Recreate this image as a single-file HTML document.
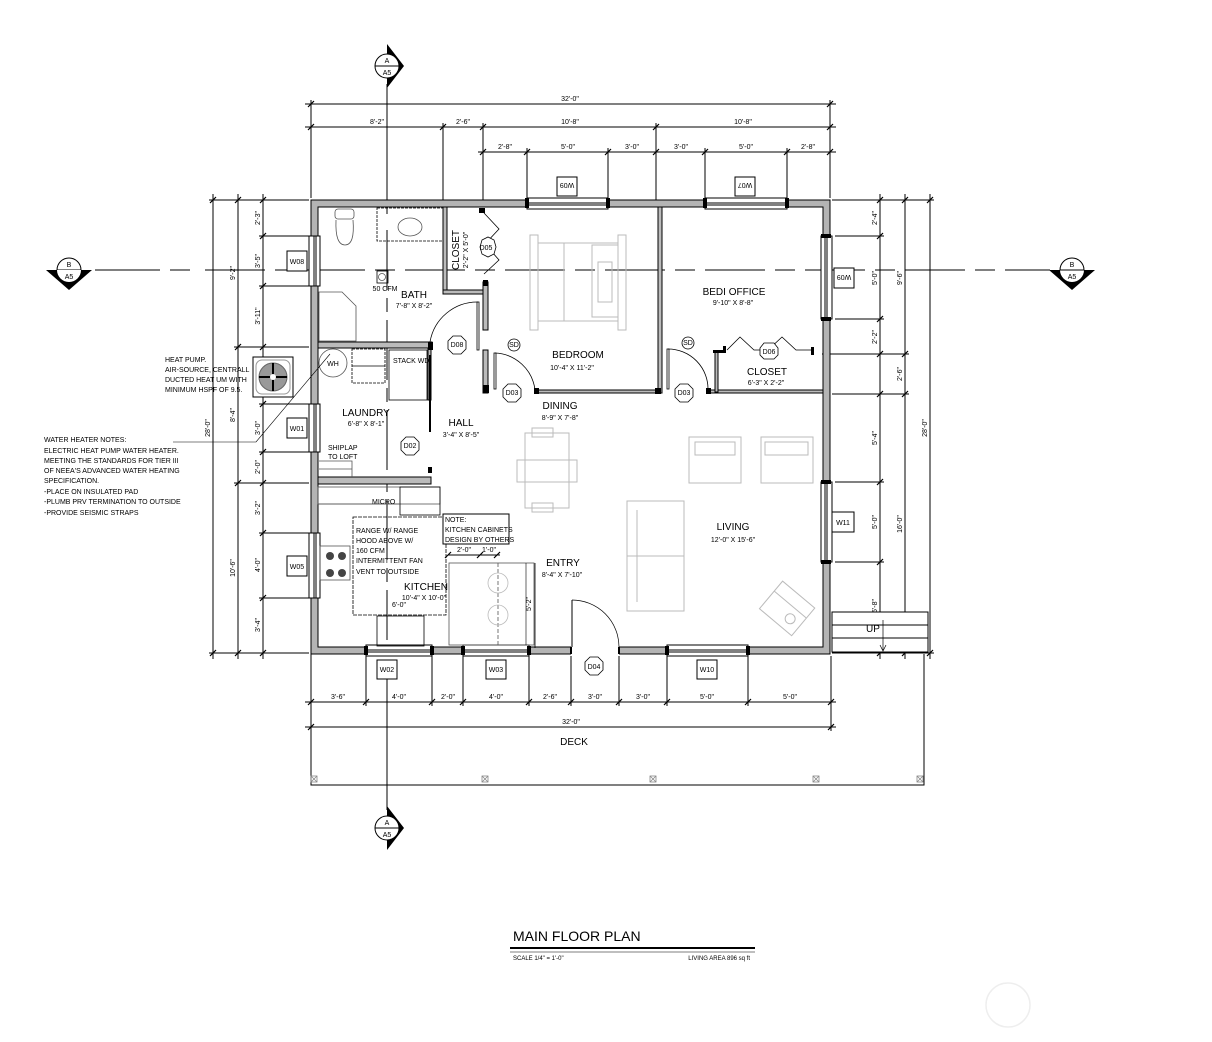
<!DOCTYPE html>
<html><head><meta charset="utf-8"><style>
html,body{margin:0;padding:0;background:#fff;}
svg{display:block;font-family:"Liberation Sans",sans-serif;}
.d{stroke:#000;stroke-width:1;fill:none}
.t{font-size:7px;fill:#000}
.r{font-size:10px;fill:#000}
.s{font-size:7px;fill:#000}
.f{stroke:#aaa;stroke-width:1;fill:none}
.w{fill:#fff;stroke:#000;stroke-width:1}
.iw{fill:#bbb;stroke:#000;stroke-width:1}
</style></head><body>
<svg width="1212" height="1042" viewBox="0 0 1212 1042" xmlns="http://www.w3.org/2000/svg">
<defs>
<g id="tk"><line x1="-3" y1="3" x2="3" y2="-3" stroke="#000" stroke-width="1.2"/></g>
</defs>

<g stroke="#000" stroke-width="1">
<line x1="387" y1="84" x2="387" y2="214"/>
<line x1="387" y1="230" x2="387" y2="640" stroke-dasharray="60,8,14,8"/>
<line x1="387" y1="660" x2="387" y2="810"/>
<line x1="95" y1="270" x2="160" y2="270"/>
<line x1="170" y1="270" x2="190" y2="270"/>
<line x1="205" y1="270" x2="1050" y2="270" stroke-dasharray="60,10,20,10"/>
</g>

<g>
<circle cx="387" cy="66" r="12" fill="#fff" stroke="#000"/>
<line x1="375" y1="66" x2="399" y2="66" stroke="#000"/>
<path d="M387 44 L404 66 L387 88 L387 78 A12 12 0 0 0 387 54 Z" fill="#000"/>
<text x="387" y="63" text-anchor="middle" class="s">A</text>
<text x="387" y="75" text-anchor="middle" class="s">A5</text>

<circle cx="387" cy="828" r="12" fill="#fff" stroke="#000"/>
<line x1="375" y1="828" x2="399" y2="828" stroke="#000"/>
<path d="M387 806 L404 828 L387 850 L387 840 A12 12 0 0 0 387 816 Z" fill="#000"/>
<text x="387" y="825" text-anchor="middle" class="s">A</text>
<text x="387" y="837" text-anchor="middle" class="s">A5</text>

<circle cx="69" cy="270" r="12" fill="#fff" stroke="#000"/>
<line x1="57" y1="270" x2="81" y2="270" stroke="#000"/>
<path d="M46 270 L92 270 L69 290 Z" fill="#000"/>
<path d="M57 270 A12 12 0 0 0 81 270 Z" fill="#fff"/>
<text x="69" y="267" text-anchor="middle" class="s">B</text>
<text x="69" y="279" text-anchor="middle" class="s">A5</text>

<circle cx="1072" cy="270" r="12" fill="#fff" stroke="#000"/>
<path d="M1049 270 L1095 270 L1072 290 Z" fill="#000"/>
<path d="M1060 270 A12 12 0 0 0 1084 270 Z" fill="#fff"/>
<line x1="1060" y1="270" x2="1084" y2="270" stroke="#000"/>
<text x="1072" y="267" text-anchor="middle" class="s">B</text>
<text x="1072" y="279" text-anchor="middle" class="s">A5</text>
</g>

<g class="d">
<line x1="305" y1="104" x2="836" y2="104"/>
<line x1="305" y1="127" x2="836" y2="127"/>
<line x1="478" y1="152" x2="836" y2="152"/>
<line x1="311" y1="100" x2="311" y2="198"/>
<line x1="830" y1="100" x2="830" y2="198"/>
<line x1="443" y1="123" x2="443" y2="200"/>
<line x1="483" y1="123" x2="483" y2="200"/>
<line x1="656" y1="123" x2="656" y2="200"/>
<line x1="527" y1="148" x2="527" y2="200"/>
<line x1="608" y1="148" x2="608" y2="200"/>
<line x1="705" y1="148" x2="705" y2="200"/>
<line x1="787" y1="148" x2="787" y2="200"/>
</g>
<g>
<use href="#tk" x="311" y="104"/><use href="#tk" x="830" y="104"/>
<use href="#tk" x="311" y="127"/><use href="#tk" x="443" y="127"/><use href="#tk" x="483" y="127"/><use href="#tk" x="656" y="127"/><use href="#tk" x="830" y="127"/>
<use href="#tk" x="483" y="152"/><use href="#tk" x="527" y="152"/><use href="#tk" x="608" y="152"/><use href="#tk" x="656" y="152"/><use href="#tk" x="705" y="152"/><use href="#tk" x="787" y="152"/><use href="#tk" x="830" y="152"/>
</g>
<g class="t" text-anchor="middle">
<text x="570" y="101">32'-0"</text>
<text x="377" y="124">8'-2"</text><text x="463" y="124">2'-6"</text><text x="570" y="124">10'-8"</text><text x="743" y="124">10'-8"</text>
<text x="505" y="149">2'-8"</text><text x="568" y="149">5'-0"</text><text x="632" y="149">3'-0"</text><text x="681" y="149">3'-0"</text><text x="746" y="149">5'-0"</text><text x="808" y="149">2'-8"</text>
</g>
<rect x="557" y="177" width="20" height="19" class="w"/><text x="567" y="189" class="s" text-anchor="middle" transform="rotate(180 567 186)">W09</text>
<rect x="735" y="177" width="20" height="19" class="w"/><text x="745" y="189" class="s" text-anchor="middle" transform="rotate(180 745 186)">W07</text>

<g class="d">
<line x1="213" y1="194" x2="213" y2="659"/>
<line x1="238" y1="194" x2="238" y2="659"/>
<line x1="263" y1="194" x2="263" y2="659"/>
<line x1="209" y1="200" x2="309" y2="200"/>
<line x1="209" y1="653" x2="309" y2="653"/>
<line x1="259" y1="236" x2="309" y2="236"/>
<line x1="259" y1="286" x2="309" y2="286"/>
<line x1="234" y1="347" x2="309" y2="347"/>
<line x1="259" y1="404" x2="309" y2="404"/>
<line x1="259" y1="452" x2="309" y2="452"/>
<line x1="234" y1="483" x2="309" y2="483"/>
<line x1="259" y1="533" x2="309" y2="533"/>
<line x1="259" y1="598" x2="309" y2="598"/>
</g>
<g>
<use href="#tk" x="213" y="200"/><use href="#tk" x="238" y="200"/><use href="#tk" x="263" y="200"/>
<use href="#tk" x="213" y="653"/><use href="#tk" x="238" y="653"/><use href="#tk" x="263" y="653"/>
<use href="#tk" x="263" y="236"/><use href="#tk" x="263" y="286"/><use href="#tk" x="238" y="347"/><use href="#tk" x="263" y="347"/>
<use href="#tk" x="263" y="404"/><use href="#tk" x="263" y="452"/><use href="#tk" x="238" y="483"/><use href="#tk" x="263" y="483"/>
<use href="#tk" x="263" y="533"/><use href="#tk" x="263" y="598"/>
</g>
<g class="t" text-anchor="middle">
<text transform="translate(210 428) rotate(-90)">28'-0"</text>
<text transform="translate(235 273) rotate(-90)">9'-2"</text>
<text transform="translate(235 415) rotate(-90)">8'-4"</text>
<text transform="translate(235 568) rotate(-90)">10'-6"</text>
<text transform="translate(260 218) rotate(-90)">2'-3"</text>
<text transform="translate(260 261) rotate(-90)">3'-5"</text>
<text transform="translate(260 316) rotate(-90)">3'-11"</text>
<text transform="translate(260 428) rotate(-90)">3'-0"</text>
<text transform="translate(260 467) rotate(-90)">2'-0"</text>
<text transform="translate(260 508) rotate(-90)">3'-2"</text>
<text transform="translate(260 565) rotate(-90)">4'-0"</text>
<text transform="translate(260 625) rotate(-90)">3'-4"</text>
</g>
<rect x="287" y="251" width="20" height="20" class="w"/><text x="297" y="264" class="s" text-anchor="middle">W08</text>
<rect x="287" y="418" width="20" height="20" class="w"/><text x="297" y="431" class="s" text-anchor="middle">W01</text>
<rect x="287" y="556" width="20" height="20" class="w"/><text x="297" y="569" class="s" text-anchor="middle">W05</text>

<g class="d">
<line x1="880" y1="194" x2="880" y2="659"/>
<line x1="905" y1="194" x2="905" y2="659"/>
<line x1="930" y1="194" x2="930" y2="659"/>
<line x1="832" y1="200" x2="934" y2="200"/>
<line x1="832" y1="653" x2="934" y2="653"/>
<line x1="835" y1="236" x2="884" y2="236"/>
<line x1="835" y1="319" x2="884" y2="319"/>
<line x1="822" y1="354" x2="909" y2="354"/>
<line x1="832" y1="394" x2="909" y2="394"/>
<line x1="835" y1="482" x2="884" y2="482"/>
<line x1="835" y1="562" x2="884" y2="562"/>
</g>
<g>
<use href="#tk" x="880" y="200"/><use href="#tk" x="905" y="200"/><use href="#tk" x="930" y="200"/>
<use href="#tk" x="880" y="653"/><use href="#tk" x="905" y="653"/><use href="#tk" x="930" y="653"/>
<use href="#tk" x="880" y="236"/><use href="#tk" x="880" y="319"/><use href="#tk" x="880" y="354"/><use href="#tk" x="905" y="354"/>
<use href="#tk" x="880" y="394"/><use href="#tk" x="905" y="394"/><use href="#tk" x="880" y="482"/><use href="#tk" x="880" y="562"/>
</g>
<g class="t" text-anchor="middle">
<text transform="translate(877 218) rotate(-90)">2'-4"</text>
<text transform="translate(877 278) rotate(-90)">5'-0"</text>
<text transform="translate(877 337) rotate(-90)">2'-2"</text>
<text transform="translate(877 438) rotate(-90)">5'-4"</text>
<text transform="translate(877 522) rotate(-90)">5'-0"</text>
<text transform="translate(877 606) rotate(-90)">5'-8"</text>
<text transform="translate(902 278) rotate(-90)">9'-6"</text>
<text transform="translate(902 374) rotate(-90)">2'-6"</text>
<text transform="translate(902 524) rotate(-90)">16'-0"</text>
<text transform="translate(927 428) rotate(-90)">28'-0"</text>
</g>
<rect x="834" y="268" width="20" height="20" class="w"/><text x="844" y="281" class="s" text-anchor="middle" transform="rotate(180 844 278)">W09</text>
<rect x="832" y="512" width="22" height="20" class="w"/><text x="843" y="525" class="s" text-anchor="middle">W11</text>
<rect x="832" y="612" width="96" height="40" class="w"/>
<line x1="832" y1="625" x2="928" y2="625" stroke="#000"/>
<line x1="832" y1="638" x2="928" y2="638" stroke="#000"/>
<text x="866" y="632" class="r" font-size="9">UP</text>
<line x1="883" y1="620" x2="883" y2="650" stroke="#000" stroke-width="0.7"/>
<path d="M880 645 L883 651 L886 645" fill="none" stroke="#000" stroke-width="0.7"/>

<g class="d">
<line x1="305" y1="702" x2="836" y2="702"/>
<line x1="305" y1="727" x2="836" y2="727"/>
<line x1="311" y1="656" x2="311" y2="731"/>
<line x1="831" y1="656" x2="831" y2="731"/>
<line x1="366" y1="656" x2="366" y2="706"/>
<line x1="432" y1="656" x2="432" y2="706"/>
<line x1="463" y1="656" x2="463" y2="706"/>
<line x1="529" y1="656" x2="529" y2="706"/>
<line x1="571" y1="656" x2="571" y2="706"/>
<line x1="619" y1="656" x2="619" y2="706"/>
<line x1="667" y1="656" x2="667" y2="706"/>
<line x1="748" y1="656" x2="748" y2="706"/>
</g>
<g>
<use href="#tk" x="311" y="702"/><use href="#tk" x="366" y="702"/><use href="#tk" x="432" y="702"/><use href="#tk" x="463" y="702"/><use href="#tk" x="529" y="702"/><use href="#tk" x="571" y="702"/><use href="#tk" x="619" y="702"/><use href="#tk" x="667" y="702"/><use href="#tk" x="748" y="702"/><use href="#tk" x="831" y="702"/>
<use href="#tk" x="311" y="727"/><use href="#tk" x="831" y="727"/>
</g>
<g class="t" text-anchor="middle">
<text x="338" y="699">3'-6"</text><text x="399" y="699">4'-0"</text><text x="448" y="699">2'-0"</text><text x="496" y="699">4'-0"</text><text x="550" y="699">2'-6"</text><text x="595" y="699">3'-0"</text><text x="643" y="699">3'-0"</text><text x="707" y="699">5'-0"</text><text x="790" y="699">5'-0"</text>
<text x="571" y="724">32'-0"</text>
</g>
<text x="574" y="745" class="r" font-size="9" text-anchor="middle">DECK</text>
<polyline points="311,654 311,785 924,785 924,654" fill="none" stroke="#000"/>
<g fill="none" stroke="#888" stroke-width="0.8">
<rect x="311" y="776" width="6" height="6"/><line x1="311" y1="776" x2="317" y2="782"/><line x1="317" y1="776" x2="311" y2="782"/>
<rect x="482" y="776" width="6" height="6"/><line x1="482" y1="776" x2="488" y2="782"/><line x1="488" y1="776" x2="482" y2="782"/>
<rect x="650" y="776" width="6" height="6"/><line x1="650" y1="776" x2="656" y2="782"/><line x1="656" y1="776" x2="650" y2="782"/>
<rect x="813" y="776" width="6" height="6"/><line x1="813" y1="776" x2="819" y2="782"/><line x1="819" y1="776" x2="813" y2="782"/>
<rect x="917" y="776" width="6" height="6"/><line x1="917" y1="776" x2="923" y2="782"/><line x1="923" y1="776" x2="917" y2="782"/>
</g>
<rect x="377" y="660" width="20" height="19" class="w"/><text x="387" y="672" class="s" text-anchor="middle">W02</text>
<rect x="486" y="660" width="20" height="19" class="w"/><text x="496" y="672" class="s" text-anchor="middle">W03</text>
<rect x="697" y="660" width="20" height="19" class="w"/><text x="707" y="672" class="s" text-anchor="middle">W10</text>
<polygon points="590,657 598,657 603,662 603,670 598,675 590,675 585,670 585,662" fill="#fff" stroke="#000" stroke-width="0.8"/>
<text x="594" y="669" class="s" text-anchor="middle" font-size="6">D04</text>

<path d="M311 200 H830 V654 H311 Z M318 207 V647 H823 V207 Z" fill="#b4b4b4" fill-rule="evenodd" stroke="#000" stroke-width="1"/>
<g fill="#fff" stroke="#000" stroke-width="1">
<rect x="527" y="198" width="81" height="11"/><line x1="527" y1="203" x2="608" y2="203"/><line x1="527" y1="205" x2="608" y2="205"/>
<rect x="705" y="198" width="82" height="11"/><line x1="705" y1="203" x2="787" y2="203"/><line x1="705" y1="205" x2="787" y2="205"/>
<rect x="309" y="236" width="11" height="50"/><line x1="314" y1="236" x2="314" y2="286"/><line x1="316" y1="236" x2="316" y2="286"/>
<rect x="309" y="404" width="11" height="48"/><line x1="314" y1="404" x2="314" y2="452"/><line x1="316" y1="404" x2="316" y2="452"/>
<rect x="309" y="533" width="11" height="65"/><line x1="314" y1="533" x2="314" y2="598"/><line x1="316" y1="533" x2="316" y2="598"/>
<rect x="821" y="236" width="11" height="83"/><line x1="825" y1="236" x2="825" y2="319"/><line x1="827" y1="236" x2="827" y2="319"/>
<rect x="821" y="482" width="11" height="80"/><line x1="825" y1="482" x2="825" y2="562"/><line x1="827" y1="482" x2="827" y2="562"/>
<rect x="366" y="645" width="66" height="11"/><line x1="366" y1="650" x2="432" y2="650"/><line x1="366" y1="652" x2="432" y2="652"/>
<rect x="463" y="645" width="66" height="11"/><line x1="463" y1="650" x2="529" y2="650"/><line x1="463" y1="652" x2="529" y2="652"/>
<rect x="667" y="645" width="81" height="11"/><line x1="667" y1="650" x2="748" y2="650"/><line x1="667" y1="652" x2="748" y2="652"/>
</g>
<g fill="#000">
<rect x="525" y="198" width="4" height="10"/><rect x="606" y="198" width="4" height="10"/>
<rect x="703" y="198" width="4" height="10"/><rect x="785" y="198" width="4" height="10"/>
<rect x="821" y="234" width="10" height="4"/><rect x="821" y="317" width="10" height="4"/>
<rect x="821" y="480" width="10" height="4"/><rect x="821" y="560" width="10" height="4"/>
<rect x="364" y="646" width="4" height="9"/><rect x="430" y="646" width="4" height="9"/>
<rect x="461" y="646" width="4" height="9"/><rect x="527" y="646" width="4" height="9"/>
<rect x="665" y="646" width="4" height="9"/><rect x="746" y="646" width="4" height="9"/>
</g>
<rect x="571" y="646" width="48" height="9" fill="#fff"/>
<line x1="571" y1="647" x2="571" y2="654" stroke="#000" stroke-width="2"/>
<line x1="619" y1="647" x2="619" y2="654" stroke="#000" stroke-width="2"/>
<line x1="572" y1="600" x2="572" y2="647" stroke="#000"/>
<path d="M572 600 A47 47 0 0 1 619 647" fill="none" stroke="#000" stroke-width="0.7"/>

<g class="iw">
<rect x="443" y="207" width="4" height="86"/>
<rect x="443" y="290" width="40" height="4"/>
<rect x="483" y="282" width="5" height="48"/>
<rect x="483" y="350" width="5" height="43"/>
<rect x="318" y="342" width="114" height="6"/>
<rect x="428" y="348" width="3" height="52"/>
<rect x="318" y="477" width="113" height="7"/>
<rect x="658" y="207" width="4" height="186"/>
<rect x="536" y="390" width="124" height="3"/>
<rect x="708" y="390" width="115" height="3"/>
<rect x="715" y="352" width="3" height="40"/>
</g>
<g fill="#000">
<rect x="428" y="342" width="5" height="8"/>
<rect x="483" y="280" width="5" height="6"/>
<rect x="479" y="208" width="6" height="5"/>
<rect x="483" y="385" width="6" height="8"/>
<rect x="534" y="388" width="5" height="6"/>
<rect x="655" y="388" width="6" height="6"/>
<rect x="706" y="388" width="5" height="6"/>
<rect x="713" y="350" width="13" height="3"/><rect x="723" y="346" width="3" height="7"/>
<rect x="811" y="347" width="3" height="8"/>
<rect x="428" y="467" width="4" height="6"/>
</g>
<g fill="none" stroke="#000" stroke-width="0.8">
<rect x="477" y="302" width="2" height="48"/>
<path d="M430 342 A48 48 0 0 1 478 302"/>
<rect x="494" y="353" width="2" height="36"/>
<path d="M495 353 A42 42 0 0 1 535 390"/>
<rect x="667" y="349" width="2" height="40"/>
<path d="M668 349 A40 40 0 0 1 708 390"/>
<line x1="430" y1="355" x2="430" y2="432" stroke-width="2"/>
<polyline points="484,213 499,229 485,244 499,260 484,274"/>
<polyline points="727,350 740,337 754,350 768,350 782,337 796,350 811,350"/>
</g>
<g fill="#fff" stroke="#000" stroke-width="0.8">
<polygon points="453,336 461,336 466,341 466,349 461,354 453,354 448,349 448,341"/>
<polygon points="478,240 484,237 490,240 492,247 490,254 484,257 478,254 476,247" transform="translate(4 0)"/>
<polygon points="508,384 516,384 521,389 521,397 516,402 508,402 503,397 503,389"/>
<polygon points="680,384 688,384 693,389 693,397 688,402 680,402 675,397 675,389"/>
<polygon points="764,343 774,343 778,348 778,355 774,359 764,359 760,355 760,348"/>
<polygon points="406,437 414,437 419,442 419,450 414,455 406,455 401,450 401,442"/>
<circle cx="514" cy="345" r="6"/>
<circle cx="688" cy="343" r="6"/>
</g>
<g class="s" font-size="6" text-anchor="middle">
<text x="457" y="347">D08</text><text x="486" y="250">D05</text><text x="512" y="395">D03</text><text x="684" y="395">D03</text><text x="769" y="354">D06</text><text x="410" y="448">D02</text>
<text x="514" y="347">SD</text><text x="688" y="345">SD</text>
</g>

<g fill="none" stroke="#555" stroke-width="0.8">
<rect x="335" y="209" width="19" height="10" rx="3"/>
<path d="M336 220 Q335 245 345 245 Q355 245 353 220"/>
<rect x="377" y="208" width="66" height="33" stroke="#000" stroke-dasharray="3,1"/>
<ellipse cx="410" cy="227" rx="12" ry="9"/>
<path d="M319 292 L342 292 L356 306 L356 341 L319 341 Z"/>
<rect x="377" y="271" width="11" height="12" stroke="#000"/>
<circle cx="382" cy="277" r="3.5"/>
<rect x="352" y="349" width="33" height="34" stroke="#000" stroke-dasharray="3,1"/>
<line x1="352" y1="366" x2="385" y2="366" stroke="#000"/>
<rect x="389" y="350" width="38" height="50" stroke="#000"/>
<circle cx="333" cy="363" r="14"/>
<path d="M319 461 H352 V477 M319 469 H352"/>
</g>
<text x="385" y="291" class="s" font-size="5" text-anchor="middle">50 CFM</text>
<text x="333" y="366" class="s" font-size="5" text-anchor="middle" fill="#226">WH</text>
<text x="393" y="363" class="s" font-size="5" fill="#226">STACK WD</text>
<text x="328" y="450" class="s" font-size="5">SHIPLAP</text>
<text x="328" y="459" class="s" font-size="5">TO LOFT</text>

<g fill="none" stroke="#555" stroke-width="0.8">
<rect x="318" y="487" width="122" height="17"/>
<rect x="400" y="487" width="40" height="28" stroke="#000"/>
<line x1="318" y1="504" x2="400" y2="504"/>
<rect x="353" y="517" width="93" height="98" stroke="#000" stroke-dasharray="4,1"/>
<rect x="320" y="546" width="30" height="34"/>
<rect x="377" y="616" width="47" height="30" stroke="#000"/>
<rect x="449" y="563" width="85" height="82"/>
<line x1="498" y1="563" x2="498" y2="645" stroke-dasharray="4,2"/>
<circle cx="498" cy="583" r="10" stroke="#bbb"/>
<circle cx="498" cy="615" r="10" stroke="#bbb"/>
<line x1="535" y1="563" x2="535" y2="648" stroke="#000"/>
</g>
<g fill="#444"><circle cx="330" cy="556" r="4"/><circle cx="342" cy="556" r="4"/><circle cx="330" cy="573" r="4"/><circle cx="342" cy="573" r="4"/></g>
<text x="372" y="504" class="s" font-size="4.5">MICRO</text>
<g class="s" font-size="6.5">
<text x="356" y="533">RANGE W/ RANGE</text>
<text x="356" y="543">HOOD ABOVE W/</text>
<text x="356" y="553">160 CFM</text>
<text x="356" y="563">INTERMITTENT FAN</text>
<text x="356" y="574">VENT TO OUTSIDE</text>
</g>
<rect x="443" y="514" width="66" height="30" fill="#fff" stroke="#000"/>
<g class="s" font-size="6.5"><text x="445" y="522">NOTE:</text><text x="445" y="532">KITCHEN CABINETS</text><text x="445" y="542">DESIGN BY OTHERS</text></g>
<line x1="448" y1="555" x2="500" y2="555" stroke="#000"/>
<use href="#tk" x="448" y="555"/><use href="#tk" x="480" y="555"/><use href="#tk" x="497" y="555"/>
<text x="464" y="552" class="t" text-anchor="middle" font-size="6">2'-0"</text><text x="489" y="552" class="t" text-anchor="middle" font-size="6">1'-0"</text>
<line x1="526" y1="563" x2="526" y2="645" stroke="#000" stroke-width="0.6"/>
<text transform="translate(531 604) rotate(-90)" class="t" text-anchor="middle" font-size="6">5'-2"</text>
<text x="399" y="607" class="t" text-anchor="middle" font-size="6">6'-0"</text>

<g fill="none" stroke="#bbb" stroke-width="1">
<rect x="530" y="235" width="8" height="95"/>
<rect x="538" y="243" width="80" height="78"/>
<line x1="564" y1="243" x2="564" y2="321"/>
<rect x="592" y="245" width="26" height="72"/>
<rect x="618" y="235" width="8" height="95"/>
<rect x="598" y="262" width="14" height="40"/>
<rect x="525" y="433" width="44" height="75"/>
<rect x="517" y="460" width="60" height="22"/>
<rect x="532" y="428" width="21" height="9"/><rect x="532" y="503" width="21" height="9"/>
<rect x="689" y="437" width="52" height="46"/>
<rect x="761" y="437" width="52" height="46"/>
<path d="M695 442 H735 V455 H695 Z M765 442 H808 V455 H765 Z"/>
<rect x="627" y="501" width="57" height="110"/>
<line x1="627" y1="556" x2="684" y2="556"/>
<line x1="637" y1="510" x2="637" y2="602"/>
<g transform="rotate(40 787 607)"><rect x="767" y="590" width="42" height="36"/><circle cx="797" cy="614" r="5"/><line x1="767" y1="603" x2="809" y2="603"/></g>
</g>

<g class="r" text-anchor="middle" font-size="9">
<text x="414" y="298">BATH</text>
<text x="578" y="358">BEDROOM</text>
<text x="734" y="295">BEDI OFFICE</text>
<text x="767" y="375">CLOSET</text>
<text x="366" y="416">LAUNDRY</text>
<text x="461" y="426">HALL</text>
<text x="560" y="409">DINING</text>
<text x="733" y="530">LIVING</text>
<text x="563" y="566">ENTRY</text>
<text x="426" y="590">KITCHEN</text>
</g>
<g class="s" text-anchor="middle" font-size="6.5">
<text x="414" y="308">7'-8" X 8'-2"</text>
<text x="572" y="370">10'-4" X 11'-2"</text>
<text x="733" y="305">9'-10" X 8'-8"</text>
<text x="766" y="385">6'-3" X 2'-2"</text>
<text x="366" y="426">6'-8" X 8'-1"</text>
<text x="461" y="437">3'-4" X 8'-5"</text>
<text x="560" y="420">8'-9" X 7'-8"</text>
<text x="733" y="542">12'-0" X 15'-6"</text>
<text x="562" y="577">8'-4" X 7'-10"</text>
<text x="424" y="600">10'-4" X 10'-0"</text>
</g>
<text transform="translate(459 250) rotate(-90)" class="r" font-size="9" text-anchor="middle">CLOSET</text>
<text transform="translate(468 250) rotate(-90)" class="s" font-size="6.5" text-anchor="middle">2'-2" X 5'-0"</text>

<rect x="253" y="357" width="40" height="40" fill="#fff" stroke="#000"/>
<rect x="256" y="360" width="34" height="34" rx="6" fill="none" stroke="#999"/>
<circle cx="273" cy="377" r="14" fill="#999" stroke="#666"/>
<line x1="259" y1="377" x2="287" y2="377" stroke="#000" stroke-width="2"/>
<line x1="273" y1="363" x2="273" y2="391" stroke="#000" stroke-width="2"/>
<circle cx="273" cy="377" r="3" fill="#fff"/>
<g class="s" font-size="6">
<text x="165" y="362">HEAT PUMP.</text>
<text x="165" y="372">AIR-SOURCE, CENTRALL</text>
<text x="165" y="382">DUCTED HEAT UM WITH</text>
<text x="165" y="392">MINIMUM HSPF OF 9.5.</text>
</g>
<g class="s" font-size="6.5">
<text x="44" y="442">WATER HEATER NOTES:</text>
<text x="44" y="453">ELECTRIC HEAT PUMP WATER HEATER.</text>
<text x="44" y="463">MEETING THE STANDARDS FOR TIER III</text>
<text x="44" y="473">OF NEEA'S ADVANCED WATER HEATING</text>
<text x="44" y="483">SPECIFICATION.</text>
<text x="44" y="494">-PLACE ON INSULATED PAD</text>
<text x="44" y="504">-PLUMB PRV TERMINATION TO OUTSIDE</text>
<text x="44" y="515">-PROVIDE SEISMIC STRAPS</text>
</g>
<polyline points="173,442 256,442 330,354" fill="none" stroke="#000" stroke-width="0.6"/>

<text x="513" y="941" font-size="14" fill="#000">MAIN FLOOR PLAN</text>
<line x1="510" y1="948" x2="755" y2="948" stroke="#000" stroke-width="2"/>
<line x1="510" y1="952" x2="755" y2="952" stroke="#000" stroke-width="0.6"/>
<text x="513" y="960" font-size="6" fill="#000">SCALE 1/4" = 1'-0"</text>
<text x="750" y="960" font-size="6" fill="#000" text-anchor="end">LIVING AREA 896 sq ft</text>

<circle cx="1008" cy="1005" r="22" fill="none" stroke="#eee" stroke-width="1.5"/>
</svg>
</body></html>
